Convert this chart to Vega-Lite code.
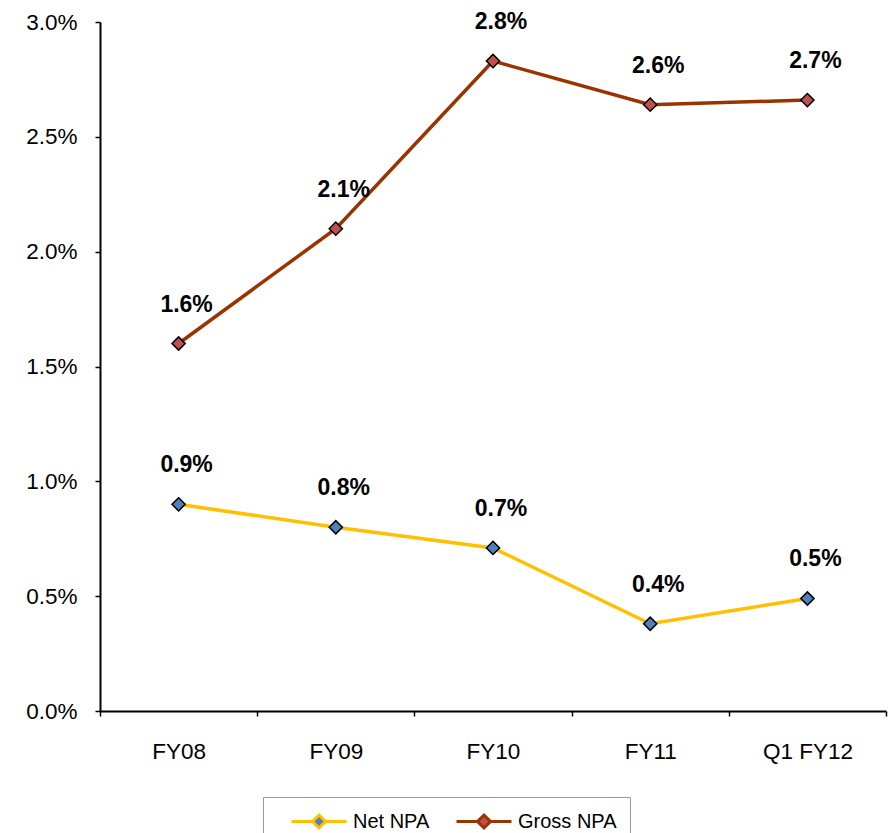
{
  "$schema": "https://vega.github.io/schema/vega-lite/v6.json",
  "width": 786,
  "height": 689,
  "autosize": "none",
  "padding": {"left": 100, "top": 22, "right": 2, "bottom": 122},
  "background": "white",
  "config": {
    "font": "Liberation Sans",
    "view": {"stroke": null},
    "axis": {"grid": false, "domainColor": "black", "tickColor": "black", "labelColor": "black", "domainWidth": 2, "tickWidth": 1.5, "labelFont": "Liberation Sans", "labelFontSize": 22.5, "title": null}
  },
  "data": {
    "values": [
      {"period": "FY08", "series": "Net NPA", "value": 0.009, "label": "0.9%"},
      {"period": "FY09", "series": "Net NPA", "value": 0.0080, "label": "0.8%"},
      {"period": "FY10", "series": "Net NPA", "value": 0.0071, "label": "0.7%"},
      {"period": "FY11", "series": "Net NPA", "value": 0.0038, "label": "0.4%"},
      {"period": "Q1 FY12", "series": "Net NPA", "value": 0.0049, "label": "0.5%"},
      {"period": "FY08", "series": "Gross NPA", "value": 0.0160, "label": "1.6%"},
      {"period": "FY09", "series": "Gross NPA", "value": 0.0210, "label": "2.1%"},
      {"period": "FY10", "series": "Gross NPA", "value": 0.0283, "label": "2.8%"},
      {"period": "FY11", "series": "Gross NPA", "value": 0.0264, "label": "2.6%"},
      {"period": "Q1 FY12", "series": "Gross NPA", "value": 0.0266, "label": "2.7%"}
    ]
  },
  "encoding": {
    "x": {
      "field": "period", "type": "nominal", "sort": ["FY08", "FY09", "FY10", "FY11", "Q1 FY12"],
      "scale": {"type": "band", "paddingInner": 0, "paddingOuter": 0},
      "axis": {"labelAngle": 0, "tickBand": "extent", "tickSize": 5, "labelPadding": 24, "domainWidth": 2}
    },
    "y": {
      "field": "value", "type": "quantitative",
      "scale": {"domain": [0, 0.03], "nice": false, "zero": true},
      "axis": {"values": [0, 0.005, 0.01, 0.015, 0.02, 0.025, 0.03], "format": ".1%", "tickSize": 5, "labelPadding": 18}
    }
  },
  "layer": [
    {
      "mark": {"type": "line", "strokeWidth": 3.5},
      "encoding": {
        "stroke": {
          "field": "series", "type": "nominal",
          "scale": {"domain": ["Net NPA", "Gross NPA"], "range": ["#FFC000", "#993300"]},
          "legend": {
            "title": null,
            "orient": "none",
            "direction": "horizontal",
            "legendX": 163,
            "legendY": 775,
            "padding": 13,
            "strokeColor": "#999999",
            "fillColor": "white",
            "symbolType": "M0.4,0H2.5M3.8,0H5.9M3.15,-0.65L3.8,0L3.15,0.65L2.5,0Z",
            "symbolSize": 400,
            "symbolStrokeWidth": 3,
            "labelOffset": 54,
            "columnPadding": 11,
            "labelFont": "Liberation Sans",
            "labelFontSize": 20,
            "labelColor": "black",
            "encode": {
              "symbols": {
                "update": {
                  "fill": {"signal": "datum.value === 'Net NPA' ? '#4F81BD' : '#C0504D'"},
                  "fillOpacity": {"value": 1}
                }
              }
            }
          }
        }
      }
    },
    {
      "mark": {"type": "point", "shape": "diamond", "filled": true, "size": 175, "stroke": "black", "strokeWidth": 1.5, "opacity": 1},
      "encoding": {
        "fill": {
          "field": "series", "type": "nominal",
          "scale": {"domain": ["Net NPA", "Gross NPA"], "range": ["#4F81BD", "#C0504D"]},
          "legend": null
        }
      }
    },
    {
      "mark": {"type": "text", "fontWeight": "bold", "fontSize": 23, "font": "Liberation Sans", "color": "black", "dy": -39, "dx": 8, "baseline": "middle"},
      "encoding": {"text": {"field": "label"}}
    }
  ]
}
